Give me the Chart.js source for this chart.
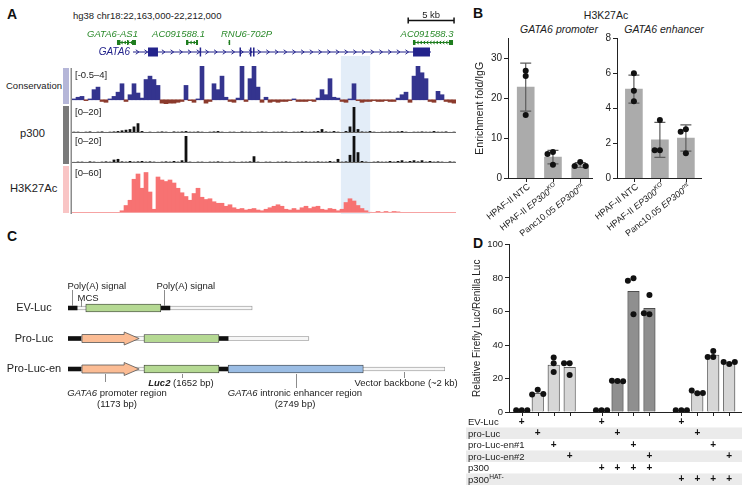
<!DOCTYPE html>
<html>
<head>
<meta charset="utf-8">
<title>GATA6 enhancer and p300</title>
<script src="https://cdn.jsdelivr.net/npm/chart.js@4.4.1/dist/chart.umd.min.js"></script>
<style>
  body { margin: 0; background: #fff; }
  #fig { position: relative; width: 750px; height: 494px; overflow: hidden; font-family: 'Liberation Sans', Arial, sans-serif; color: #222; }
  #fig canvas { position: absolute; }
  .t { position: absolute; white-space: nowrap; line-height: 1; }
  .lbl { font-weight: bold; font-size: 14px; color: #111; }
  .side { position: absolute; left: 63px; width: 6px; }
</style>
</head>
<body>
<div id="fig">
  <div class="t lbl" style="left:7px;top:6.5px">A</div>
  <div class="t lbl" style="left:473px;top:6px">B</div>
  <div class="t lbl" style="left:7px;top:228.5px">C</div>
  <div class="t lbl" style="left:473px;top:236px">D</div>

  <div class="t" style="left:73px;top:10.9px;font-size:9.5px">hg38 chr18:22,163,000-22,212,000</div>
  <div class="t" style="left:6px;top:81.3px;font-size:9.5px">Conservation</div>
  <div class="t" style="left:20px;top:127.5px;font-size:11.2px">p300</div>
  <div class="t" style="left:10px;top:182.5px;font-size:11.2px">H3K27Ac</div>
  <div class="side" style="top:68px;height:36px;background:#b5b6d8"></div>
  <div class="side" style="top:106px;height:58px;background:#7a7a7a"></div>
  <div class="side" style="top:166px;height:47px;background:#f9c5c5"></div>

  <div class="t" style="left:606px;top:9.9px;font-size:10.5px;transform:translateX(-50%)">H3K27Ac</div>
  <div class="t" style="left:559px;top:24px;font-size:10.5px;font-style:italic;transform:translateX(-50%)">GATA6 promoter</div>
  <div class="t" style="left:664px;top:24px;font-size:10.5px;font-style:italic;transform:translateX(-50%)">GATA6 enhancer</div>

  <canvas id="cons" width="460" height="106" style="left:0;top:0"></canvas>
  <canvas id="p300a" width="460" height="29" style="left:0;top:106px"></canvas>
  <canvas id="p300b" width="460" height="30" style="left:0;top:135px"></canvas>
  <canvas id="h3k" width="460" height="49" style="left:0;top:165px"></canvas>
  <canvas id="constructs" width="470" height="150" style="left:0;top:270px"></canvas>
  <canvas id="bProm" width="160" height="225" style="left:440px;top:20px"></canvas>
  <canvas id="bEnh" width="115" height="225" style="left:595px;top:20px"></canvas>
  <canvas id="panelD" width="310" height="264" style="left:440px;top:230px"></canvas>
</div>
<script>
const FONT = "'Liberation Sans', Arial, Helvetica, sans-serif";
Chart.defaults.font.family = FONT;
Chart.defaults.color = '#222';
Chart.defaults.animation = false;
Chart.defaults.events = [];
Chart.defaults.responsive = false;
Chart.defaults.maintainAspectRatio = false;
Chart.defaults.plugins.legend.display = false;
Chart.defaults.plugins.tooltip.enabled = false;

// ---- A: browser tracks, 96 bins over chr18:22,163,000-22,212,000 ----
const regionKb = 49;
const binCount = 96;
const consValues = [
  0.1, 0.3, 0.4, -0.1, 0.1, 1.2, 1.5, -0.2, -0.3, 0.1,
  0.4, 0.9, 1.9, -0.2, 0.6, 1.9, 0.8, 0.2, 2.4, 2.8,
  2.4, 1.7, -0.4, -0.5, -0.4, -0.4, -0.3, -0.2, 1.7, -0.1,
  -0.3, 0.1, 4.0, -0.4, -0.2, 1.9, 1.2, 2.8, 0.3, -0.2,
  -0.3, 0.2, 4.0, -0.2, 2.5, 4.0, 1.5, -0.3, 0.3, -0.3,
  -0.2, -0.3, -0.2, -0.2, -0.1, 0.1, -0.2, -0.2, -0.2, -0.1,
  -0.2, 0.2, 1.2, 0.6, 2.5, 0.3, 0.2, -0.2, -0.3, 0.1,
  1.9, -0.1, -0.3, -0.2, -0.2, -0.1, -0.2, -0.2, -0.1, -0.2,
  -0.2, 0.2, 0.6, 0.9, -0.3, 2.8, 4.0, 3.2, 2.5, -0.2,
  -0.3, 1.0, 0.6, -0.2, -0.3, -0.4
];
const p300TopValues = [
  1, 1, 0.8, 1, 1.2, 0.8, 1, 1.2, 0.8, 1,
  1.2, 1.5, 2, 2.5, 3, 5, 7.5, 1.5, 0.8, 1,
  0.8, 1, 1.2, 1, 0.8, 1.2, 1, 1.2, 1.5, 1,
  1, 1.2, 1, 0.8, 1, 1.2, 1.5, 1, 0.8, 1,
  1, 0.8, 1.2, 1, 1, 0.8, 1, 1.2, 1, 0.8,
  1, 1, 1.2, 1, 0.8, 1, 1, 1.5, 1, 1,
  1.2, 1.5, 3, 1.2, 1, 1.5, 1, 0.8, 1.5, 5,
  20, 3, 1.2, 1, 1.5, 1, 0.8, 1, 1, 1.2,
  1, 1.2, 1.5, 1, 0.8, 1, 1, 1.2, 1, 1,
  1.5, 1, 1, 1.2, 0.8, 1
];
const p300BottomValues = [
  0.8, 1, 1, 0.8, 1.2, 1, 0.8, 1, 1.2, 1,
  2.5, 3, 1.2, 1, 1.5, 1, 1.2, 1.5, 1, 1.2,
  1, 0.8, 1, 1.2, 1, 1.5, 1, 2, 20, 1,
  0.8, 1, 1, 0.8, 1, 1, 1.2, 1, 0.8, 1,
  1, 0.8, 1, 1, 1.2, 5, 1, 0.8, 1, 1,
  0.8, 1, 1, 1.2, 1, 0.8, 1, 1, 1.2, 1,
  1, 1.2, 1, 1, 1.5, 1, 3, 1, 1.2, 6,
  20, 8, 1.5, 1, 0.8, 1, 1.2, 1, 1, 1.5,
  1, 1.5, 2, 1, 1.5, 2, 1.2, 2, 1, 1.5,
  1, 1.2, 1, 0.8, 1.2, 1
];
const h3k27acValues = [
  0.5, 0.5, 0.5, 0.5, 0.5, 0.5, 0.5, 0.5, 0.5, 0.5,
  0.5, 0.5, 3, 10, 17, 45, 52, 33, 54, 28,
  5, 48, 44, 42, 44, 40, 33, 27, 22, 17,
  26, 33, 21, 18, 19, 15, 13, 13, 9, 11,
  7, 5, 6, 4, 5, 6, 4, 3, 5, 7,
  9, 11, 9, 5, 4, 6, 4, 7, 9, 6,
  8, 9, 5, 4, 6, 5, 3, 5, 14, 19,
  16, 10, 6, 3, 1, 0.5, 2, 1, 2, 1,
  2, 1.5, 0.5, 0.5, 0.5, 0.5, 0.5, 0.5, 0.5, 0.5,
  0.5, 0.5, 0.5, 0.5, 0.5, 0.5
];
const highlightKb = [34.31, 38.05];
const smallGenes = [
  {name: 'GATA6-AS1', labelKb: 5.17, start: 5.74, end: 8.16, exons: [[5.74, 6.18], [7.02, 7.21], [7.66, 8.16]], dir: -1},
  {name: 'AC091588.1', labelKb: 13.59, start: 14.55, end: 16.08, exons: [[14.55, 14.81], [15.82, 16.08]], dir: -1},
  {name: 'RNU6-702P', labelKb: 22.27, start: 19.99, end: 20.12, exons: [[19.99, 20.12]], dir: 1},
  {name: 'AC091588.3', labelKb: 45.3, start: 43.51, end: 48.62, exons: [[43.51, 43.8], [48.1, 48.62]], dir: -1}
];
const gata6 = {name: 'GATA6', start: 7.78, end: 45.81,
  exons: [[9.70, 10.97], [16.29, 16.44], [21.37, 21.51], [22.71, 22.84], [23.10, 23.22], [43.52, 45.68]]};
const scaleBarKb = [42.9, 5.85];

// ---- B: ChIP-qPCR ----
const bGroups = [
  [{t: 'HPAF-II NTC'}],
  [{t: 'HPAF-II '}, {t: 'EP300', i: 1}, {t: 'KO', i: 1, sup: 1}],
  [{t: 'Panc10.05 '}, {t: 'EP300', i: 1}, {t: 'mt', i: 1, sup: 1}]
];
const promMeans = [22.8, 5.3, 3.3];
const promErr = [6.0, 1.7, 0.6];
const promPoints = [[26.9, 25.6, 15.8], [6.6, 6.1, 3.4], [4.1, 3.1, 3.1]];
const enhMeans = [5.1, 2.2, 2.3];
const enhErr = [0.8, 1.0, 0.75];
const enhPoints = [[6.0, 5.0, 4.4], [3.33, 1.6, 1.6], [2.8, 2.66, 1.43]];

// ---- C: constructs (bp) ----
const cRows = ['EV-Luc', 'Pro-Luc', 'Pro-Luc-en'];
const cBackbone = [[0, 3830], [0, 5010], [0, 7840]];
const cPolyA = [[[0, 190], [1930, 2120]], [[0, 270], [3140, 3330]], [[0, 270], [3140, 3330]]];
const cLuc2 = [[370, 1930], [1580, 3140], [1580, 3140]];
const cPromoter = [null, [290, 1480], [290, 1480]];
const cEnhancer = [null, null, [3330, 6140]];

// ---- D: luciferase reporter ----
const dRowLabels = ['EV-Luc', 'pro-Luc', 'pro-Luc-en#1', 'pro-Luc-en#2', 'p300', 'p300HAT-'];
const dReporter = [0, 1, 2, 3, 0, 1, 2, 3, 0, 1, 2, 3];
const dCofactor = [-1, -1, -1, -1, 0, 0, 0, 0, 1, 1, 1, 1];
const dMeans = [1, 11.2, 28, 26.7, 1, 18.5, 72, 61.9, 1, 11.5, 34, 29.5];
const dPoints = [
  [1, 1, 1], [13.3, 10.5, 10.8], [32.6, 29.1, 23.9], [29.1, 29.1, 22.1],
  [1, 1, 1], [18.5, 18.7, 18.3], [79.8, 78.4, 58.3], [69.9, 58.3, 58.9],
  [1, 1, 1], [11.2, 12.8, 11.3], [36.4, 32.8, 32.8], [28.6, 29.9, 29.9]
];

// draw a run of text pieces (italic / bold / superscript)
function rich(ctx, segs, x, y, align, size, color) {
  const fontOf = s => (s.i ? 'italic ' : '') + (s.b ? 'bold ' : '') + (s.sup ? size * 0.7 : size) + 'px ' + FONT;
  let w = 0;
  const ws = segs.map(s => { ctx.font = fontOf(s); const m = ctx.measureText(s.t).width; w += m; return m; });
  let cx = align === 'center' ? x - w / 2 : align === 'right' ? x - w : x;
  ctx.textAlign = 'left';
  ctx.textBaseline = 'alphabetic';
  if (color) ctx.fillStyle = color;
  segs.forEach((s, k) => {
    ctx.font = fontOf(s);
    ctx.fillText(s.t, cx, s.sup ? y - size * 0.4 : y);
    cx += ws[k];
  });
}

function chevrons(ctx, xa, xb, y, dir, step, h) {
  ctx.beginPath();
  for (let cx = xa + step / 2; cx < xb - 1; cx += step) {
    ctx.moveTo(cx - dir * h * 0.7, y - h);
    ctx.lineTo(cx + dir * h * 0.7, y);
    ctx.lineTo(cx - dir * h * 0.7, y + h);
  }
  ctx.stroke();
}

// simple dot spreading so replicates do not sit on top of each other
function swarm(vals, gap, step) {
  const placed = [];
  return vals.map(v => {
    for (const o of [0, -step, step, -2 * step, 2 * step]) {
      if (!placed.some(p => Math.abs(p.v - v) < gap && Math.abs(p.o - o) < step * 0.9)) {
        placed.push({v, o});
        return o;
      }
    }
    return 0;
  });
}

const kbPx = (x, kb) => x.getPixelForValue(kb / regionKb * binCount - 0.5);

const track = {
  id: 'track',
  beforeDatasetsDraw(chart, args, o) {
    const {ctx, scales: {x}} = chart;
    const x0 = kbPx(x, highlightKb[0]), x1 = kbPx(x, highlightKb[1]);
    ctx.save();
    ctx.fillStyle = '#e3edf8';
    ctx.fillRect(x0, o.top, x1 - x0, chart.height - o.top);
    ctx.restore();
  },
  afterDatasetsDraw(chart, args, o) {
    const {ctx, chartArea: a, scales: {y}} = chart;
    ctx.save();
    if (o.baseline) {
      const yb = Math.round(y.getPixelForValue(0)) - 0.5;
      ctx.strokeStyle = o.baseline;
      ctx.lineWidth = 1;
      ctx.beginPath(); ctx.moveTo(a.left, yb); ctx.lineTo(a.right, yb); ctx.stroke();
    }
    ctx.strokeStyle = '#8c8c8c';
    ctx.lineWidth = 1.5;
    ctx.beginPath(); ctx.moveTo(a.left - 0.75, o.axisTop); ctx.lineTo(a.left - 0.75, chart.height); ctx.stroke();
    ctx.fillStyle = '#222';
    ctx.font = '9.5px ' + FONT;
    ctx.textBaseline = 'middle';
    ctx.fillText(o.range, a.left + 3, a.top + o.labelDy);
    ctx.restore();
  }
};

const genes = {
  id: 'genes',
  afterDraw(chart) {
    const {ctx, scales: {x}} = chart;
    ctx.save();
    smallGenes.forEach(g => {
      ctx.fillStyle = '#2b8a2b';
      ctx.font = 'italic 9.5px ' + FONT;
      ctx.textAlign = 'center';
      ctx.textBaseline = 'middle';
      ctx.fillText(g.name, kbPx(x, g.labelKb), 34);
      const xa = kbPx(x, g.start), xb = kbPx(x, g.end);
      ctx.strokeStyle = '#1e7d1e';
      ctx.lineWidth = 1;
      ctx.beginPath(); ctx.moveTo(xa, 42.5); ctx.lineTo(xb, 42.5); ctx.stroke();
      chevrons(ctx, xa, xb, 42.5, g.dir, 3.2, 1.5);
      ctx.fillStyle = '#1e7d1e';
      g.exons.forEach(e => {
        const ea = kbPx(x, e[0]), eb = kbPx(x, e[1]);
        ctx.fillRect(ea, 40, Math.max(1.5, eb - ea), 5);
      });
    });
    // GATA6
    const ga = kbPx(x, gata6.start), gb = kbPx(x, gata6.end);
    ctx.fillStyle = '#23238c';
    ctx.font = 'italic 10px ' + FONT;
    ctx.textAlign = 'right';
    ctx.textBaseline = 'middle';
    ctx.fillText(gata6.name, ga - 3, 52);
    ctx.strokeStyle = '#23238c';
    ctx.lineWidth = 1.2;
    ctx.beginPath(); ctx.moveTo(ga, 52); ctx.lineTo(gb, 52); ctx.stroke();
    ctx.lineWidth = 1;
    chevrons(ctx, ga, gb, 52, 1, 8.7, 2.2);
    gata6.exons.forEach(e => {
      const ea = kbPx(x, e[0]), eb = kbPx(x, e[1]);
      ctx.fillRect(ea, 47.5, Math.max(1.5, eb - ea), 9);
    });
    // scale bar
    const s0 = kbPx(x, scaleBarKb[0]), s1 = kbPx(x, scaleBarKb[0] + scaleBarKb[1]);
    ctx.strokeStyle = '#111';
    ctx.lineWidth = 1.5;
    ctx.beginPath();
    ctx.moveTo(s0, 20.5); ctx.lineTo(s1, 20.5);
    ctx.moveTo(s0, 17.5); ctx.lineTo(s0, 23.5);
    ctx.moveTo(s1, 17.5); ctx.lineTo(s1, 23.5);
    ctx.stroke();
    ctx.fillStyle = '#222';
    ctx.font = '9.5px ' + FONT;
    ctx.textAlign = 'center';
    ctx.fillText('5 kb', (s0 + s1) / 2, 15);
    ctx.restore();
  }
};

const binLabels = consValues.map((v, i) => i);

function trackChart(id, values, color, yMin, yMax, pad, opts, extra, barPct) {
  return new Chart(id, {
    type: 'bar',
    data: {labels: binLabels, datasets: [{data: values, backgroundColor: color, borderWidth: 0,
      barPercentage: barPct || 1, categoryPercentage: 1}]},
    options: {
      layout: {padding: pad},
      scales: {x: {display: false}, y: {display: false, min: yMin, max: yMax}},
      plugins: {track: opts}
    },
    plugins: [track].concat(extra || [])
  });
}

trackChart('cons', consValues, c => (c.raw < 0 ? '#8b3a2c' : '#34348e'), -0.5, 4,
  {top: 66, bottom: 2, left: 72, right: 4},
  {top: 56, axisTop: 68, range: '[-0.5\u20134]', labelDy: 9}, [genes]);
trackChart('p300a', p300TopValues, '#111', 0, 20,
  {top: 1, bottom: 2, left: 72, right: 4},
  {top: 0, axisTop: 0, range: '[0\u201320]', labelDy: 5, baseline: '#6a6a6a'}, [], 0.7);
trackChart('p300b', p300BottomValues, '#111', 0, 20,
  {top: 1, bottom: 2, left: 72, right: 4},
  {top: 0, axisTop: 0, range: '[0\u201320]', labelDy: 5, baseline: '#6a6a6a'}, [], 0.7);
trackChart('h3k', h3k27acValues, '#f77272', 0, 60,
  {top: 3, bottom: 1, left: 72, right: 4},
  {top: 0, axisTop: 0, range: '[0\u201360]', labelDy: 5, baseline: '#f6a3a3'});

// ---- shared plugin for B and D: error bars, x axis, rotated labels, table ----
const gp = {
  id: 'gp',
  afterDatasetDraw(chart, args, o) {
    if (args.index !== 0 || !o.err) return;
    const {ctx, scales: {x, y}} = chart;
    ctx.save();
    ctx.strokeStyle = '#5c5c5c';
    ctx.lineWidth = 1.2;
    o.means.forEach((m, i) => {
      const cx = x.getPixelForValue(o.slots[i]);
      const yt = y.getPixelForValue(m + o.err[i]), yb = y.getPixelForValue(m - o.err[i]);
      ctx.beginPath();
      ctx.moveTo(cx, yt); ctx.lineTo(cx, yb);
      ctx.moveTo(cx - 5.5, yt); ctx.lineTo(cx + 5.5, yt);
      ctx.moveTo(cx - 5.5, yb); ctx.lineTo(cx + 5.5, yb);
      ctx.stroke();
    });
    ctx.restore();
  },
  afterDraw(chart, args, o) {
    const {ctx, chartArea: a, scales: {x}} = chart;
    ctx.save();
    ctx.strokeStyle = '#222';
    ctx.lineWidth = 1;
    const yb = Math.round(a.bottom) + 0.5;
    ctx.beginPath();
    ctx.moveTo(a.left - 0.5, yb); ctx.lineTo(a.right, yb);
    o.slots.forEach(s => {
      const cx = Math.round(x.getPixelForValue(s)) + 0.5;
      ctx.moveTo(cx, yb); ctx.lineTo(cx, yb + 3.5);
    });
    ctx.stroke();
    if (o.labels) {
      o.labels.forEach((segs, i) => {
        ctx.save();
        ctx.translate(x.getPixelForValue(o.slots[i]) + 3, a.bottom + 7);
        ctx.rotate(-38 * Math.PI / 180);
        rich(ctx, segs, 0, 3.2, 'right', 9, '#222');
        ctx.restore();
      });
    }
    if (o.table) {
      const t = o.table;
      t.rows.forEach((label, r) => {
        const cy = a.bottom + 9.7 + r * 11.5;
        if (r % 2) {
          ctx.fillStyle = '#ebebeb';
          ctx.fillRect(a.left - 43, cy - 5.75, a.right - a.left + 43, 11.5);
        }
        const segs = label.endsWith('HAT-') ? [{t: label.slice(0, -4)}, {t: 'HAT-', sup: 1}] : [{t: label}];
        rich(ctx, segs, a.left - 41, cy + 3.4, 'left', 9.5, '#222');
      });
      ctx.fillStyle = '#111';
      ctx.font = 'bold 10px ' + FONT;
      ctx.textAlign = 'center';
      ctx.textBaseline = 'middle';
      o.slots.forEach((s, i) => {
        const cx = x.getPixelForValue(s);
        const rows = [t.reporter[i]];
        if (t.cofactor[i] >= 0) rows.push(4 + t.cofactor[i]);
        rows.forEach(r => ctx.fillText('+', cx, a.bottom + 10.2 + r * 11.5));
      });
    }
    ctx.restore();
  }
};

function yAxis(max, step, width, title, size, titlePad) {
  return {
    min: 0, max: max,
    afterFit: s => { s.width = width; },
    border: {color: '#222', width: 1},
    grid: {drawOnChartArea: false, drawTicks: true, tickLength: 4, color: '#222'},
    ticks: {stepSize: step, includeBounds: false, padding: 2, color: '#222', font: {size: size}},
    title: {display: !!title, text: title, color: '#222', font: {size: size + 0.5}, padding: {top: titlePad, bottom: 0}}
  };
}

function chipChart(id, means, err, points, gap, xMax, yMax, yStep, yWidth, rightPad, title) {
  const slots = means.map((m, i) => i);
  const dots = [];
  points.forEach((vals, i) => swarm(vals, gap, 0.2).forEach((o, k) => dots.push({x: i + o, y: vals[k]})));
  return new Chart(id, {
    type: 'bar',
    data: {datasets: [
      {data: means.map((m, i) => ({x: i, y: m})), backgroundColor: '#ababab', borderWidth: 0, barThickness: 17, order: 1},
      {type: 'scatter', data: dots, pointRadius: 3, pointBackgroundColor: '#111', pointBorderWidth: 0, order: 0}
    ]},
    options: {
      layout: {padding: {top: 18.3, bottom: 66.7, left: 0, right: rightPad}},
      scales: {
        x: {type: 'linear', display: false, offset: false, min: -0.65, max: xMax},
        y: yAxis(yMax, yStep, yWidth, title, 10, 33.7)
      },
      plugins: {gp: {slots: slots, means: means, err: err, labels: bGroups}}
    },
    plugins: [gp]
  });
}

chipChart('bProm', promMeans, promErr, promPoints, 1.25, 2.47, 35, 10, 68, 7, 'Enrichment fold/IgG');
chipChart('bEnh', enhMeans, enhErr, enhPoints, 0.29, 2.62, 8, 2, 22, 8, '');

// ---- C ----
const construct = {
  id: 'construct',
  afterDatasetsDraw(chart, args, o) {
    const {ctx, scales: {x, y}} = chart;
    ctx.save();
    chart.getDatasetMeta(o.arrowIndex).data.forEach(el => {
      const tip = el.x, base = el.base, cy = el.y;
      ctx.beginPath();
      ctx.moveTo(base, cy - 4);
      ctx.lineTo(tip - 15, cy - 4);
      ctx.lineTo(tip - 15, cy - 6.5);
      ctx.lineTo(tip, cy);
      ctx.lineTo(tip - 15, cy + 6.5);
      ctx.lineTo(tip - 15, cy + 4);
      ctx.lineTo(base, cy + 4);
      ctx.closePath();
      ctx.fillStyle = '#fbbc94';
      ctx.fill();
      ctx.strokeStyle = '#555';
      ctx.lineWidth = 0.8;
      ctx.stroke();
    });
    cRows.forEach((r, i) => {
      ctx.fillStyle = '#222';
      ctx.font = '11px ' + FONT;
      ctx.textAlign = 'center';
      ctx.textBaseline = 'middle';
      ctx.fillText(r, 34, y.getPixelForValue(i));
    });
    o.notes.forEach(n => {
      const lx = Math.round(x.getPixelForValue(n.bp)) + 0.5;
      const ry = y.getPixelForValue(n.row);
      ctx.strokeStyle = '#8c8c8c';
      ctx.lineWidth = 1;
      ctx.beginPath(); ctx.moveTo(lx, ry + n.y0); ctx.lineTo(lx, ry + n.y1); ctx.stroke();
      n.lines.forEach((segs, k) => rich(ctx, segs, lx + n.tx, ry + n.ty + k * 11 + 3.4, n.align, 9.5, '#222'));
    });
    ctx.restore();
  }
};

const seg = (list, rowsPerItem) => {
  const out = [];
  list.forEach((v, r) => {
    if (!v) return;
    (rowsPerItem ? v : [v]).forEach(s => out.push({y: cRows[r], x: s}));
  });
  return out;
};

new Chart('constructs', {
  type: 'bar',
  data: {
    labels: cRows,
    datasets: [
      {data: seg(cLuc2), backgroundColor: '#b5d993', borderColor: '#333', borderWidth: 0.8, borderSkipped: false, barThickness: 8, grouped: false},
      {data: seg(cEnhancer), backgroundColor: '#9bbde4', borderColor: '#333', borderWidth: 0.8, borderSkipped: false, barThickness: 8, grouped: false},
      {data: seg(cPolyA, true), backgroundColor: '#111', borderWidth: 0, barThickness: 4, grouped: false},
      {data: seg(cPromoter), backgroundColor: 'rgba(0,0,0,0)', borderWidth: 0, barThickness: 8, grouped: false},
      {data: seg(cBackbone), backgroundColor: '#f6f6f6', borderColor: '#8a8a8a', borderWidth: 0.8, borderSkipped: false, barThickness: 4, grouped: false}
    ]
  },
  options: {
    indexAxis: 'y',
    layout: {padding: {top: 22.75, bottom: 35.75, left: 68, right: 25}},
    scales: {
      x: {type: 'linear', display: false, min: 0, max: 7840},
      y: {display: false}
    },
    plugins: {construct: {arrowIndex: 3, notes: [
      {row: 0, bp: 83, y0: -2, y1: -18, tx: -5, ty: -22, align: 'left', lines: [[{t: 'Poly(A) signal'}]]},
      {row: 0, bp: 270, y0: -1, y1: -7, tx: -4, ty: -10.5, align: 'left', lines: [[{t: 'MCS'}]]},
      {row: 0, bp: 2000, y0: -2, y1: -18, tx: -8, ty: -22, align: 'left', lines: [[{t: 'Poly(A) signal'}]]},
      {row: 2, bp: 770, y0: 5, y1: 13, tx: 11.5, ty: 24, align: 'center',
        lines: [[{t: 'GATA6', i: 1}, {t: ' promoter region'}], [{t: '(1173 bp)'}]]},
      {row: 2, bp: 2370, y0: 5, y1: 9, tx: -1.5, ty: 14, align: 'center',
        lines: [[{t: 'Luc2', i: 1, b: 1}, {t: ' (1652 bp)'}]]},
      {row: 2, bp: 4740, y0: 5, y1: 19, tx: -1.5, ty: 24, align: 'center',
        lines: [[{t: 'GATA6', i: 1}, {t: ' intronic enhancer region'}], [{t: '(2749 bp)'}]]},
      {row: 2, bp: 6990, y0: 3, y1: 9, tx: -50, ty: 14, align: 'left', lines: [[{t: 'Vector backbone (~2 kb)'}]]}
    ]}}
  },
  plugins: [construct]
});

// ---- D ----
const dSlots = dReporter.map((r, i) => (dCofactor[i] + 1) * 5 + r);
const dDots = [];
dPoints.forEach((vals, i) => swarm(vals, 3, 0.35).forEach((o, k) => dDots.push({x: dSlots[i] + o, y: vals[k]})));

new Chart('panelD', {
  type: 'bar',
  data: {datasets: [
    {data: dMeans.map((m, i) => ({x: dSlots[i], y: m})),
      backgroundColor: dCofactor.map(c => (c === 0 ? '#8f8f8f' : '#d6d6d6')),
      borderColor: '#3a3a3a', borderWidth: 0.8, barThickness: 11.5, order: 1},
    {type: 'scatter', data: dDots, pointRadius: 3, pointBackgroundColor: '#111', pointBorderWidth: 0, order: 0}
  ]},
  options: {
    layout: {padding: {top: 14.5, right: 8, bottom: 82, left: 0}},
    scales: {
      x: {type: 'linear', display: false, offset: false, min: -0.8, max: 13.8},
      y: yAxis(100, 20, 69, 'Relative Firefly Luc/Renilla Luc', 9.5, 31.3)
    },
    plugins: {gp: {slots: dSlots, table: {rows: dRowLabels, reporter: dReporter, cofactor: dCofactor}}}
  },
  plugins: [gp]
});
</script>
</body>
</html>
